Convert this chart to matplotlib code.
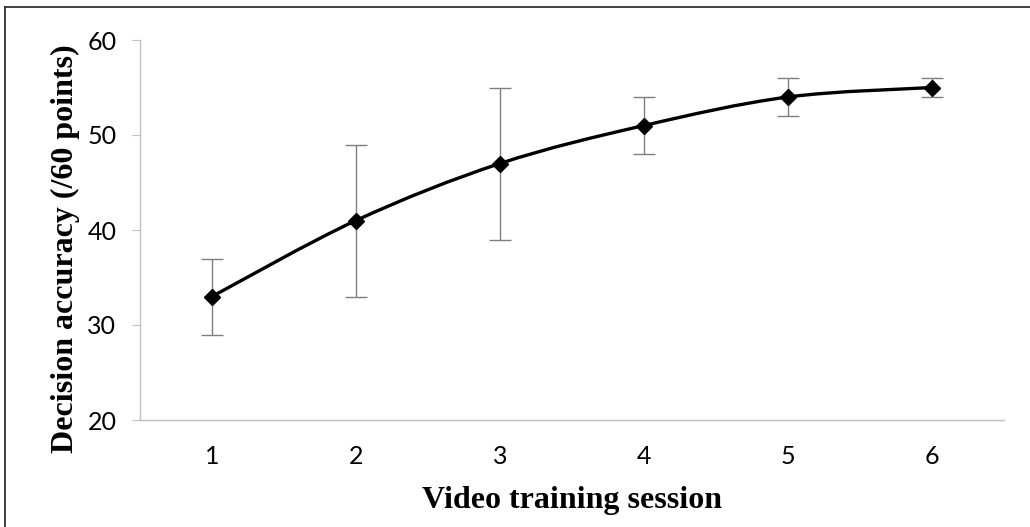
import numpy as np
import matplotlib.pyplot as plt
from matplotlib.path import Path
from matplotlib.patches import PathPatch
from matplotlib.lines import Line2D

# accuracy over the training sessions
sessions = [1, 2, 3, 4, 5, 6]
accuracy = [33, 41, 47, 51, 54, 55]
err = [4, 8, 8, 3, 2, 1]
yticks = [20, 30, 40, 50, 60]


def smooth_path(x, y):
    # Excel-style smoothed line: cubic bezier through every point
    pts = np.column_stack([x, y]).astype(float)
    n = len(pts)
    verts = [pts[0]]
    codes = [Path.MOVETO]
    for i in range(n - 1):
        p0 = pts[max(i - 1, 0)]
        p1 = pts[i]
        p2 = pts[i + 1]
        p3 = pts[min(i + 2, n - 1)]
        c1 = p1 + (p2 - p0) / 6.0
        c2 = p2 - (p3 - p1) / 6.0
        verts += [c1, c2, p2]
        codes += [Path.CURVE4] * 3
    return Path(verts, codes)


fig = plt.figure(figsize=(10.3, 5.27), dpi=100)
ax = fig.add_axes([140 / 1030, 1 - 420 / 527, 864 / 1030, 380 / 527])

ax.add_patch(PathPatch(smooth_path(sessions, accuracy), fill=False,
                       edgecolor="black", lw=2.4, zorder=3))
ax.errorbar(sessions, accuracy, yerr=err, fmt="none", ecolor="#7f7f7f",
            elinewidth=1, capsize=8, capthick=1, zorder=2)
ax.plot(sessions, accuracy, ls="none", marker="D", ms=8.5, color="black", zorder=4)

ax.set_xlim(0.5, 6.5)
ax.set_ylim(20, 60)
ax.set_xticks(sessions)
ax.set_yticks(yticks)
for s in ["top", "right"]:
    ax.spines[s].set_visible(False)
for s in ["left", "bottom"]:
    ax.spines[s].set_color("#c0c0c0")
    ax.spines[s].set_linewidth(1)
ax.tick_params(axis="both", labelsize=18, labelfontfamily="Lato")
ax.tick_params(axis="y", length=6, color="#c0c0c0", pad=11)
ax.tick_params(axis="x", length=0, pad=18)

ax.set_xlabel("Video training session", family="Liberation Serif",
              fontweight="bold", fontsize=23, labelpad=13)
ax.set_ylabel("Decision accuracy (/60 points)", family="Liberation Serif",
              fontweight="bold", fontsize=23)
ax.yaxis.set_label_coords(-0.069, 0.45)

# frame around the figure
fig.add_artist(Line2D([5 / 1030, 5 / 1030], [0, 1 - 7 / 527], color="#333333", lw=1.3))
fig.add_artist(Line2D([5 / 1030, 1], [1 - 7 / 527, 1 - 7 / 527], color="#333333", lw=1.3))

fig.savefig("out.png", dpi=100)
